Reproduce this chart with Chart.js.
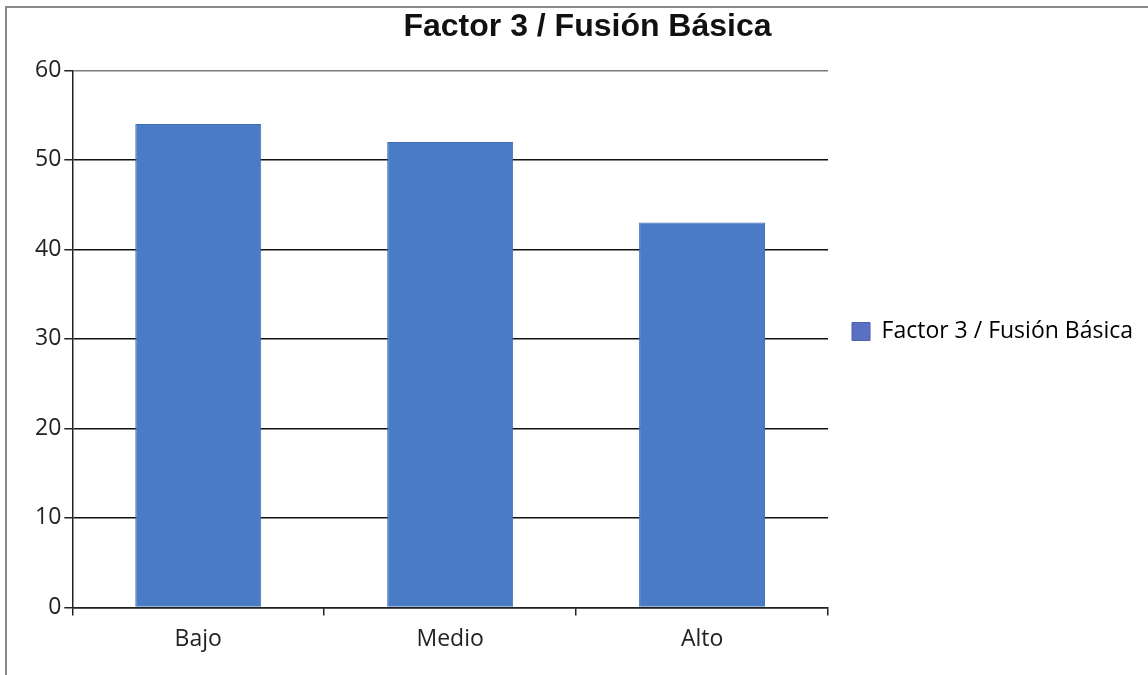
<!DOCTYPE html>
<html>
<head>
<meta charset="utf-8">
<script src="https://cdn.jsdelivr.net/npm/chart.js@4.4.0/dist/chart.umd.min.js"></script>
<style>
  html, body { margin: 0; padding: 0; background: #fff; }
  #wrap { position: relative; width: 1148px; height: 675px; }
  #frame {
    position: absolute; left: 5px; top: 6px; right: 0; bottom: 0;
    border-left: 2px solid #8a8a8a; border-top: 2px solid #8a8a8a;
    pointer-events: none;
  }
</style>
</head>
<body>
<div id="wrap">
  <canvas id="c" width="1148" height="675"></canvas>
  <div id="frame"></div>
</div>
<script>
  // ---------- Data ----------
  const TITLE = "Factor 3 / Fusión Básica";
  const categories = ["Bajo", "Medio", "Alto"];
  const values = [54, 52, 43];
  const yTicks = { min: 0, max: 60, step: 10 };

  const FONT = "'Open Sans', 'DejaVu Sans', sans-serif";

  const ctx = document.getElementById("c").getContext("2d");
  new Chart(ctx, {
    type: "bar",
    data: {
      labels: categories,
      datasets: [
        {
          label: TITLE,
          data: values,
          backgroundColor: "#4a7cc6",
          borderColor: "#3f6eb4",
          borderWidth: 1,
          barPercentage: 0.5,
          categoryPercentage: 1,
        },
      ],
    },
    options: {
      responsive: false,
      animation: false,
      layout: { padding: { left: 32, right: 5, bottom: 12, top: 0 } },
      plugins: {
        title: {
          display: true,
          text: TITLE,
          color: "#111",
          font: { family: "'Liberation Sans', Arial, sans-serif", size: 32, weight: "bold" },
          padding: { top: 8, bottom: 24 },
        },
        legend: {
          position: "right",
          maxWidth: 340,
          labels: {
            boxWidth: 18,
            boxHeight: 18,
            padding: 24,
            color: "#222",
            font: { family: FONT, size: 23 },
            generateLabels: (chart) => [
              {
                text: chart.data.datasets[0].label,
                fillStyle: "#5b6fc3",
                strokeStyle: "#4b5eb0",
                lineWidth: 1,
                datasetIndex: 0,
              },
            ],
          },
        },
        tooltip: { enabled: false },
      },
      scales: {
        x: {
          grid: {
            offset: true,
            drawOnChartArea: true,
            color: (c) => (c.index === categories.length ? "#7a7a7a" : "rgba(0,0,0,0)"),
            tickColor: "#222",
            tickLength: 8,
            lineWidth: 1.5,
          },
          border: { color: "#222", width: 1.5 },
          ticks: { color: "#222", font: { family: FONT, size: 23 }, padding: 10 },
        },
        y: {
          min: yTicks.min,
          max: yTicks.max,
          ticks: {
            stepSize: yTicks.step,
            color: "#222",
            font: { family: FONT, size: 23 },
            padding: 3,
          },
          grid: {
            color: (c) => (c.tick && c.tick.value === yTicks.max ? "#7a7a7a" : "#111"),
            tickColor: "#222",
            tickLength: 8,
            lineWidth: 1.5,
          },
          border: { color: "#222", width: 1.5 },
        },
      },
    },
  });
</script>
</body>
</html>
